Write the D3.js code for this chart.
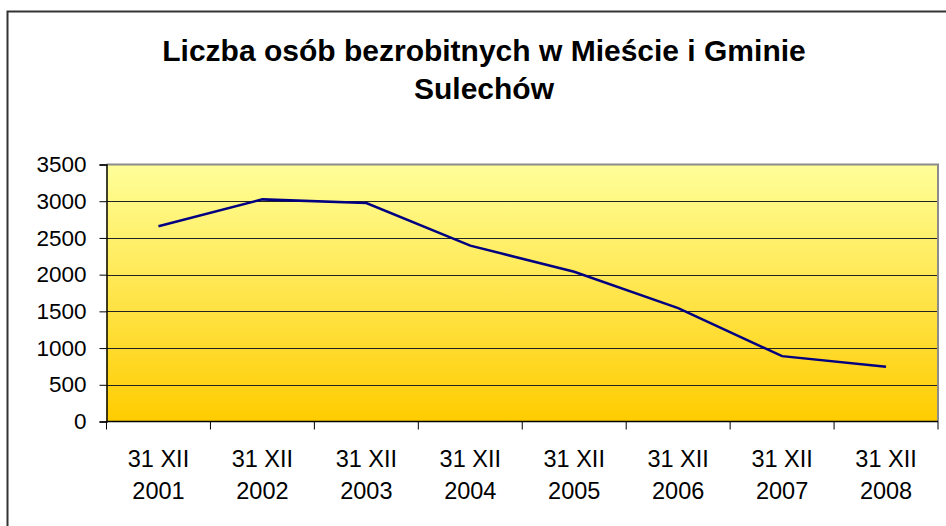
<!DOCTYPE html>
<html>
<head>
<meta charset="utf-8">
<script src="https://cdn.jsdelivr.net/npm/d3@7"></script>
<style>
  body { margin: 0; background: #fff; }
  text { font-family: "Liberation Sans", Arial, sans-serif; fill: #000; }
</style>
</head>
<body>
<div id="chart"></div>
<script>
const titleLines = ["Liczba osób bezrobitnych w Mieście i Gminie", "Sulechów"];
const years = ["2001", "2002", "2003", "2004", "2005", "2006", "2007", "2008"];
const dayLabel = "31 XII";
const values = [2660, 3025, 2975, 2395, 2040, 1545, 890, 745];
const yTicks = [0, 500, 1000, 1500, 2000, 2500, 3000, 3500];

const width = 946, height = 526;
const plot = { left: 106.5, right: 938, top: 164.5, bottom: 421.5 };

const svg = d3.select("#chart").append("svg")
    .attr("width", width)
    .attr("height", height);

// outer chart frame (only left and top visible)
svg.append("path")
    .attr("d", `M7.5,${height}V11.5H${width}`)
    .attr("fill", "none")
    .attr("stroke", "#333")
    .attr("stroke-width", 2);

const grad = svg.append("defs").append("linearGradient")
    .attr("id", "bg").attr("x1", 0).attr("y1", 0).attr("x2", 0).attr("y2", 1);
grad.append("stop").attr("offset", "0%").attr("stop-color", "#ffff99");
grad.append("stop").attr("offset", "100%").attr("stop-color", "#ffcc00");

const x = d3.scaleBand().domain(years).range([plot.left, plot.right]);
const y = d3.scaleLinear().domain([0, 3500]).range([plot.bottom, plot.top]);

svg.append("rect")
    .attr("x", plot.left).attr("y", plot.top)
    .attr("width", plot.right - plot.left)
    .attr("height", plot.bottom - plot.top)
    .attr("fill", "url(#bg)");

// gridlines
svg.selectAll(".grid")
    .data(yTicks.filter(d => d > 0 && d < 3500))
    .enter().append("line")
    .attr("class", "grid")
    .attr("x1", plot.left).attr("x2", plot.right)
    .attr("y1", d => Math.round(y(d)) + 0.5).attr("y2", d => Math.round(y(d)) + 0.5)
    .attr("stroke", "#222")
    .attr("stroke-width", 1.2);

// plot border top/right
svg.append("path")
    .attr("d", `M${plot.left},${plot.top}H${plot.right}V${plot.bottom}`)
    .attr("fill", "none")
    .attr("stroke", "#8c8c8c")
    .attr("stroke-width", 2);

// y axis
const yAxis = svg.append("g")
    .attr("transform", `translate(${plot.left},0)`)
    .call(d3.axisLeft(y).tickValues(yTicks).tickSize(7).tickPadding(13).tickFormat(d3.format("d")));
yAxis.select(".domain").attr("stroke", "#000").attr("stroke-width", 1.5);
yAxis.selectAll(".tick line").attr("stroke", "#000");
yAxis.selectAll("text").attr("font-size", 22.5).style("font-family", "Liberation Sans, Arial, sans-serif");

// x axis with ticks on band boundaries
const xAxis = svg.append("g")
    .attr("transform", `translate(0,${plot.bottom})`);
xAxis.append("line")
    .attr("x1", plot.left).attr("x2", plot.right)
    .attr("stroke", "#000").attr("stroke-width", 1.5);
const bounds = years.map(d => x(d)).concat([plot.right]);
xAxis.selectAll(".xt")
    .data(bounds)
    .enter().append("line")
    .attr("x1", d => d).attr("x2", d => d)
    .attr("y1", 0).attr("y2", 8)
    .attr("stroke", "#000");
const xl = xAxis.selectAll(".xl")
    .data(years)
    .enter().append("text")
    .attr("text-anchor", "middle")
    .attr("font-size", 23.5)
    .attr("x", d => x(d) + x.bandwidth() / 2);
xl.append("tspan").attr("x", d => x(d) + x.bandwidth() / 2).attr("y", 45.5).text(dayLabel);
xl.append("tspan").attr("x", d => x(d) + x.bandwidth() / 2).attr("y", 77).text(d => d);

// line
const line = d3.line()
    .x((d, i) => x(years[i]) + x.bandwidth() / 2)
    .y(d => y(d));
svg.append("path")
    .datum(values)
    .attr("d", line)
    .attr("fill", "none")
    .attr("stroke", "#000080")
    .attr("stroke-width", 2.5);

// title
svg.selectAll(".title")
    .data(titleLines)
    .enter().append("text")
    .attr("x", 484)
    .attr("y", (d, i) => 61 + i * 38)
    .attr("text-anchor", "middle")
    .attr("font-size", 30)
    .attr("font-weight", "bold")
    .text(d => d);
</script>
</body>
</html>
